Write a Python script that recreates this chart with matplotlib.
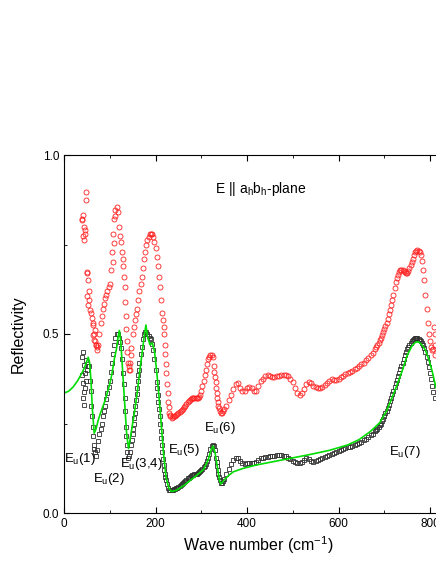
import numpy as np
import matplotlib
matplotlib.use("Agg")
import matplotlib.pyplot as plt
from matplotlib.ticker import MultipleLocator, FormatStrFormatter

plt.rcParams['font.family'] = ['Liberation Sans', 'DejaVu Sans']
plt.rcParams['mathtext.default'] = 'regular'

# measured reflectivity, E || ab-plane (red circles), wave number grid in cm^-1
red_x = np.arange(40, 815, 5)
red_y = [0.82, 0.78, 0.67, 0.62, 0.56, 0.50, 0.47, 0.47, 0.53, 0.57,
         0.60, 0.62, 0.64, 0.73, 0.82, 0.855, 0.80, 0.757, 0.69, 0.55,
         0.42, 0.42, 0.50, 0.54, 0.57, 0.62, 0.66, 0.71, 0.75, 0.77,
         0.78, 0.77, 0.74, 0.69, 0.63, 0.56, 0.47, 0.36, 0.28, 0.265,
         0.27, 0.275, 0.28, 0.285, 0.29, 0.30, 0.31, 0.315, 0.32, 0.32,
         0.32, 0.325, 0.34, 0.37, 0.40, 0.43, 0.44, 0.435, 0.38, 0.32,
         0.285, 0.28, 0.29, 0.30, 0.315, 0.33, 0.345, 0.36, 0.363, 0.35,
         0.34, 0.34, 0.35, 0.353, 0.35, 0.34, 0.34, 0.355, 0.37, 0.375,
         0.383, 0.385, 0.383, 0.38, 0.381, 0.382, 0.384, 0.385, 0.386, 0.385,
         0.382, 0.375, 0.365, 0.35, 0.335, 0.33, 0.335, 0.345, 0.36, 0.367,
         0.362, 0.355, 0.352, 0.35, 0.349, 0.352, 0.358, 0.363, 0.37, 0.373,
         0.372, 0.372, 0.375, 0.38, 0.383, 0.387, 0.391, 0.395, 0.398, 0.402,
         0.405, 0.41, 0.415, 0.42, 0.426, 0.433, 0.44, 0.447, 0.458, 0.47,
         0.483, 0.497, 0.513, 0.53, 0.555, 0.58, 0.61, 0.645, 0.665, 0.678,
         0.68, 0.673, 0.671, 0.685, 0.70, 0.72, 0.733, 0.733, 0.72, 0.68,
         0.61, 0.53, 0.48, 0.455, 0.47]
# extra readings between grid points where the red curve is steep
red_x2 = np.arange(62.5, 350, 5)
red_y2 = [0.53, 0.48, 0.465, 0.50, 0.55, 0.585, 0.61, 0.63, 0.68, 0.78,
          0.845, 0.84, 0.775, 0.73, 0.63, 0.48, 0.40, 0.46, 0.52, 0.555,
          0.595, 0.64, 0.685, 0.73, 0.762, 0.778, 0.778, 0.758, 0.716, 0.66,
          0.595, 0.52, 0.415, 0.31, 0.27, 0.267, 0.272, 0.277, 0.282, 0.287,
          0.295, 0.305, 0.312, 0.318, 0.32, 0.32, 0.322, 0.33, 0.355, 0.385,
          0.415, 0.437, 0.44, 0.41, 0.35, 0.30, 0.28, 0.285]
red_x3 = np.arange(682.5, 810, 5)
red_y3 = [0.464, 0.476, 0.49, 0.505, 0.521, 0.542, 0.567, 0.595, 0.628, 0.656,
          0.672, 0.68, 0.677, 0.671, 0.677, 0.692, 0.71, 0.728, 0.735, 0.728,
          0.703, 0.65, 0.57, 0.50, 0.465, 0.458]
red_steep_x = [106.25, 108.75, 111.25, 128.75, 131.25, 133.75, 136.25, 138.75,
               141.25, 143.75, 146.25, 216.25, 218.75, 221.25, 223.75, 226.25,
               228.75, 231.25, 328.75, 331.25, 333.75, 336.25, 338.75]
red_steep_y = [0.70, 0.755, 0.83, 0.71, 0.66, 0.59, 0.515, 0.45, 0.41, 0.40,
               0.44, 0.54, 0.50, 0.445, 0.39, 0.335, 0.295, 0.273, 0.395,
               0.365, 0.335, 0.31, 0.292]
# noisy low-frequency points of the red spectrum
red_noise_x = [47, 48, 41, 39, 44, 46, 44, 42, 50, 53.5, 50, 54.6, 52.5, 57,
               61, 63, 63, 68, 65.5, 70, 72, 809, 811, 812]
red_noise_y = [0.897, 0.875, 0.832, 0.818, 0.80, 0.79, 0.763, 0.774, 0.673,
               0.65, 0.606, 0.595, 0.58, 0.567, 0.545, 0.525, 0.497, 0.51,
               0.483, 0.47, 0.455, 0.52, 0.50, 0.44]

# second measurement (black squares)
blk_x = np.arange(50, 815, 5)
blk_y = [0.40, 0.41, 0.30, 0.19, 0.16, 0.20, 0.235, 0.27, 0.30, 0.335,
         0.37, 0.42, 0.47, 0.50, 0.49, 0.46, 0.39, 0.24, 0.155, 0.17,
         0.22, 0.28, 0.35, 0.42, 0.465, 0.50, 0.505, 0.495, 0.485, 0.455,
         0.40, 0.33, 0.25, 0.17, 0.11, 0.08, 0.065, 0.063, 0.066, 0.07,
         0.073, 0.078, 0.085, 0.09, 0.097, 0.101, 0.105, 0.108, 0.11, 0.114,
         0.12, 0.128, 0.137, 0.155, 0.178, 0.19, 0.175, 0.13, 0.092, 0.085,
         0.095, 0.11, 0.122, 0.137, 0.148, 0.153, 0.153, 0.146, 0.14, 0.138,
         0.139, 0.14, 0.14, 0.141, 0.143, 0.148, 0.153, 0.155, 0.156, 0.157,
         0.158, 0.159, 0.16, 0.162, 0.163, 0.162, 0.16, 0.158, 0.155, 0.15,
         0.146, 0.142, 0.139, 0.139, 0.142, 0.148, 0.153, 0.151, 0.146, 0.143,
         0.145, 0.148, 0.152, 0.154, 0.157, 0.16, 0.163, 0.166, 0.168, 0.17,
         0.173, 0.177, 0.179, 0.181, 0.183, 0.185, 0.188, 0.19, 0.193, 0.196,
         0.199, 0.203, 0.207, 0.212, 0.217, 0.222, 0.228, 0.236, 0.245, 0.256,
         0.27, 0.286, 0.303, 0.322, 0.342, 0.362, 0.382, 0.402, 0.42, 0.44,
         0.458, 0.47, 0.48, 0.487, 0.489, 0.487, 0.48, 0.468, 0.45, 0.422,
         0.39, 0.355, 0.32]
blk_x2 = np.arange(52.5, 350, 5)
blk_y2 = [0.41, 0.37, 0.24, 0.17, 0.175, 0.22, 0.25, 0.285, 0.318, 0.352,
          0.395, 0.445, 0.49, 0.50, 0.478, 0.43, 0.32, 0.19, 0.158, 0.19,
          0.25, 0.315, 0.385, 0.445, 0.485, 0.505, 0.50, 0.49, 0.472, 0.43,
          0.365, 0.29, 0.21, 0.135, 0.092, 0.071, 0.064, 0.064, 0.068, 0.071,
          0.075, 0.081, 0.087, 0.093, 0.099, 0.103, 0.106, 0.109, 0.112, 0.117,
          0.124, 0.132, 0.145, 0.165, 0.186, 0.186, 0.155, 0.11, 0.085, 0.09]
blk_x3 = np.arange(682.5, 810, 5)
blk_y3 = [0.232, 0.24, 0.25, 0.263, 0.278, 0.294, 0.312, 0.332, 0.352, 0.372,
          0.392, 0.411, 0.43, 0.449, 0.465, 0.476, 0.484, 0.488, 0.488, 0.484,
          0.475, 0.46, 0.437, 0.407, 0.373, 0.337]
blk_steep_x = [58.75, 61.25, 63.75, 66.25, 131.25, 133.75, 136.25, 138.75,
               148.75, 151.25, 153.75, 156.25, 158.75, 161.25, 163.75, 203.75,
               206.25, 208.75, 211.25, 213.75, 216.25, 218.75, 221.25, 333.75,
               336.25, 338.75]
blk_steep_y = [0.34, 0.27, 0.215, 0.178, 0.36, 0.285, 0.215, 0.17, 0.205,
               0.235, 0.265, 0.298, 0.333, 0.368, 0.40, 0.348, 0.31, 0.27,
               0.23, 0.19, 0.152, 0.12, 0.10, 0.143, 0.12, 0.10]
blk_noise_x = [42, 39, 44, 39, 41.5, 44, 41.5, 44, 46, 48, 47, 45]
blk_noise_y = [0.45, 0.435, 0.413, 0.385, 0.363, 0.338, 0.321, 0.302, 0.39,
               0.427, 0.37, 0.35]

# fit (green line)
fit_x = [0, 10, 20, 30, 40, 46, 50, 53, 56, 59, 62, 66, 70, 75, 80, 90, 100,
         105, 110, 115, 118, 121, 124, 128, 133, 137, 141, 145, 150, 155, 160,
         165, 170, 175, 179, 183, 188, 193, 198, 203, 208, 213, 218, 223, 229,
         235, 245, 260, 275, 290, 305, 315, 322, 326, 330, 335, 340, 343, 350,
         360, 370, 390, 420, 460, 500, 540, 580, 620, 645, 670, 690, 705, 718,
         730, 740, 750, 760, 768, 775, 782, 790, 798, 805, 813]
fit_y = [0.335, 0.34, 0.352, 0.37, 0.393, 0.41, 0.425, 0.435, 0.42, 0.37,
         0.29, 0.223, 0.235, 0.26, 0.28, 0.315, 0.36, 0.39, 0.43, 0.46, 0.49,
         0.51, 0.48, 0.40, 0.30, 0.22, 0.18, 0.21, 0.25, 0.29, 0.335, 0.39,
         0.44, 0.49, 0.525, 0.49, 0.47, 0.475, 0.45, 0.39, 0.32, 0.24, 0.16,
         0.10, 0.07, 0.06, 0.063, 0.075, 0.09, 0.105, 0.122, 0.148, 0.178,
         0.187, 0.17, 0.13, 0.09, 0.081, 0.092, 0.105, 0.115, 0.124, 0.134,
         0.144, 0.154, 0.164, 0.175, 0.19, 0.205, 0.228, 0.252, 0.285, 0.325,
         0.365, 0.40, 0.44, 0.465, 0.477, 0.478, 0.47, 0.455, 0.427, 0.395,
         0.35]

mode_labels = ['E$_u$(1)', 'E$_u$(2)', 'E$_u$(3,4)', 'E$_u$(5)', 'E$_u$(6)', 'E$_u$(7)']
mode_x = [0, 63, 123, 227, 306, 710]
mode_y = [0.128, 0.073, 0.115, 0.154, 0.215, 0.148]

fig = plt.figure(figsize=(4.36, 5.64), dpi=100)
ax = fig.add_axes([64 / 436, 51 / 564, 850 * 0.4575 / 436, 358 / 564])

red_style = dict(ls='none', marker='o', mfc='none', mec='#ff2020', ms=3.6, mew=0.6)
blk_style = dict(ls='none', marker='s', mfc='none', mec='#303030', ms=3.4, mew=0.6)
ax.plot(np.concatenate([red_x, red_x2, red_x3, red_steep_x, red_noise_x]),
        np.concatenate([red_y, red_y2, red_y3, red_steep_y, red_noise_y]), **red_style)
ax.plot(np.concatenate([blk_x, blk_x2, blk_x3, blk_steep_x, blk_noise_x]),
        np.concatenate([blk_y, blk_y2, blk_y3, blk_steep_y, blk_noise_y]), **blk_style)
ax.plot(fit_x, fit_y, '-', color='#00dd00', lw=1.2)

for lab, x, y in zip(mode_labels, mode_x, mode_y):
    ax.text(x, y, lab, fontsize=9.5, ha='left', va='bottom')
ax.text(330, 0.88, 'E || a$_h$b$_h$-plane', fontsize=10, ha='left', va='bottom')

ax.set_xlim(0, 850)
ax.set_ylim(0, 1)
ax.xaxis.set_major_locator(MultipleLocator(200))
ax.xaxis.set_minor_locator(MultipleLocator(100))
ax.yaxis.set_major_locator(MultipleLocator(0.5))
ax.yaxis.set_minor_locator(MultipleLocator(0.25))
ax.yaxis.set_major_formatter(FormatStrFormatter('%.1f'))
ax.tick_params(which='both', direction='in', top=True, right=True, labelsize=8.5)
ax.tick_params(which='major', length=4)
ax.tick_params(which='minor', length=2.5)
ax.set_xlabel('Wave number (cm$^{-1}$)', fontsize=11.5, labelpad=3)
ax.set_ylabel('Reflectivity', fontsize=11.5, labelpad=12)

fig.savefig('out.png', dpi=100)
